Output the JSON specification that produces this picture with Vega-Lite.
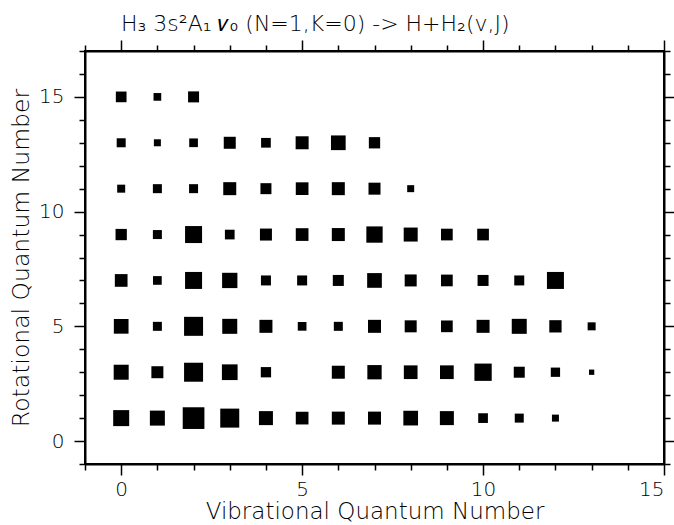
{
  "$schema": "https://vega.github.io/schema/vega-lite/v6.json",
  "width": 579,
  "height": 413,
  "autosize": "none",
  "padding": {"left": 85, "top": 51, "right": 10, "bottom": 61},
  "background": "white",
  "title": {
    "text": "H₃  3s²A₁  𝜈₀  (N=1,K=0)  ->  H+H₂(v,J)",
    "font": "DejaVu Sans",
    "fontWeight": 200,
    "fontSize": 22,
    "color": "black",
    "anchor": "start",
    "frame": "group",
    "offset": 3,
    "dx": 36
  },
  "data": {
    "values": [
      {"v": 0, "J": 15, "p": 10.7}, {"v": 1, "J": 15, "p": 7.7}, {"v": 2, "J": 15, "p": 11},
      {"v": 0, "J": 13, "p": 9}, {"v": 1, "J": 13, "p": 7}, {"v": 2, "J": 13, "p": 8.7}, {"v": 3, "J": 13, "p": 12},
      {"v": 4, "J": 13, "p": 9.7}, {"v": 5, "J": 13, "p": 13}, {"v": 6, "J": 13, "p": 14.7}, {"v": 7, "J": 13, "p": 11.3},
      {"v": 0, "J": 11, "p": 8}, {"v": 1, "J": 11, "p": 9}, {"v": 2, "J": 11, "p": 9}, {"v": 3, "J": 11, "p": 13},
      {"v": 4, "J": 11, "p": 11}, {"v": 5, "J": 11, "p": 12.7}, {"v": 6, "J": 11, "p": 13}, {"v": 7, "J": 11, "p": 12},
      {"v": 8, "J": 11, "p": 7},
      {"v": 0, "J": 9, "p": 11.3}, {"v": 1, "J": 9, "p": 9}, {"v": 2, "J": 9, "p": 17}, {"v": 3, "J": 9, "p": 9.7},
      {"v": 4, "J": 9, "p": 12}, {"v": 5, "J": 9, "p": 12.7}, {"v": 6, "J": 9, "p": 13}, {"v": 7, "J": 9, "p": 16.3},
      {"v": 8, "J": 9, "p": 14}, {"v": 9, "J": 9, "p": 11.7}, {"v": 10, "J": 9, "p": 11.7},
      {"v": 0, "J": 7, "p": 12.7}, {"v": 1, "J": 7, "p": 8.7}, {"v": 2, "J": 7, "p": 17}, {"v": 3, "J": 7, "p": 15.3},
      {"v": 4, "J": 7, "p": 10}, {"v": 5, "J": 7, "p": 10}, {"v": 6, "J": 7, "p": 11}, {"v": 7, "J": 7, "p": 14.7},
      {"v": 8, "J": 7, "p": 12}, {"v": 9, "J": 7, "p": 11.7}, {"v": 10, "J": 7, "p": 11}, {"v": 11, "J": 7, "p": 10},
      {"v": 12, "J": 7, "p": 17},
      {"v": 0, "J": 5, "p": 14.7}, {"v": 1, "J": 5, "p": 9}, {"v": 2, "J": 5, "p": 19}, {"v": 3, "J": 5, "p": 15},
      {"v": 4, "J": 5, "p": 13}, {"v": 5, "J": 5, "p": 8.7}, {"v": 6, "J": 5, "p": 9}, {"v": 7, "J": 5, "p": 13},
      {"v": 8, "J": 5, "p": 12}, {"v": 9, "J": 5, "p": 11.7}, {"v": 10, "J": 5, "p": 13}, {"v": 11, "J": 5, "p": 15},
      {"v": 12, "J": 5, "p": 12.3}, {"v": 13, "J": 5, "p": 8},
      {"v": 0, "J": 3, "p": 15}, {"v": 1, "J": 3, "p": 12}, {"v": 2, "J": 3, "p": 19}, {"v": 3, "J": 3, "p": 15.7},
      {"v": 4, "J": 3, "p": 10.3}, {"v": 6, "J": 3, "p": 13}, {"v": 7, "J": 3, "p": 14.3},
      {"v": 8, "J": 3, "p": 13.7}, {"v": 9, "J": 3, "p": 13.7}, {"v": 10, "J": 3, "p": 17.3}, {"v": 11, "J": 3, "p": 11},
      {"v": 12, "J": 3, "p": 9.3}, {"v": 13, "J": 3, "p": 5.3},
      {"v": 0, "J": 1, "p": 16}, {"v": 1, "J": 1, "p": 15}, {"v": 2, "J": 1, "p": 21.7}, {"v": 3, "J": 1, "p": 19},
      {"v": 4, "J": 1, "p": 14}, {"v": 5, "J": 1, "p": 12.7}, {"v": 6, "J": 1, "p": 13}, {"v": 7, "J": 1, "p": 13},
      {"v": 8, "J": 1, "p": 14.7}, {"v": 9, "J": 1, "p": 14}, {"v": 10, "J": 1, "p": 9.7}, {"v": 11, "J": 1, "p": 9},
      {"v": 12, "J": 1, "p": 7}
    ]
  },
  "layer": [
    {
      "mark": {"type": "square", "filled": true, "color": "black", "opacity": 1},
      "encoding": {
        "x": {
          "field": "v", "type": "quantitative",
          "scale": {"domain": [-1, 15], "nice": false, "zero": false},
          "axis": {
            "orient": "bottom",
            "title": "Vibrational Quantum Number",
            "values": [-1, 0, 1, 2, 3, 4, 5, 6, 7, 8, 9, 10, 11, 12, 13, 14, 15],
            "labelExpr": "datum.value % 5 === 0 ? datum.label : ''",
            "tickSize": {"condition": {"test": "datum.value % 5 === 0", "value": 11}, "value": 6},
            "labelPadding": 4,
            "titlePadding": 1,
            "titleFontSize": 23
          }
        },
        "y": {
          "field": "J", "type": "quantitative",
          "scale": {"domain": [-1, 17], "nice": false, "zero": false},
          "axis": {
            "orient": "left",
            "title": "Rotational Quantum Number",
            "values": [-1, 0, 1, 2, 3, 4, 5, 6, 7, 8, 9, 10, 11, 12, 13, 14, 15, 16, 17],
            "labelExpr": "datum.value % 5 === 0 ? datum.label : ''",
            "tickSize": {"condition": {"test": "datum.value % 5 === 0", "value": 11}, "value": 6},
            "labelPadding": 10,
            "titlePadding": 5
          }
        },
        "size": {
          "field": "p", "type": "quantitative",
          "scale": {"type": "pow", "exponent": 2, "domain": [0, 22], "range": [0, 484]},
          "legend": null
        }
      }
    },
    {
      "mark": {"type": "square", "opacity": 0},
      "encoding": {
        "x": {
          "field": "v", "type": "quantitative",
          "axis": {
            "orient": "top",
            "title": null,
            "labels": false,
            "values": [-1, 0, 1, 2, 3, 4, 5, 6, 7, 8, 9, 10, 11, 12, 13, 14, 15],
            "tickSize": {"condition": {"test": "datum.value % 5 === 0", "value": 11}, "value": 6}
          }
        },
        "y": {
          "field": "J", "type": "quantitative",
          "axis": {
            "orient": "right",
            "title": null,
            "labels": false,
            "values": [-1, 0, 1, 2, 3, 4, 5, 6, 7, 8, 9, 10, 11, 12, 13, 14, 15, 16, 17],
            "tickSize": {"condition": {"test": "datum.value % 5 === 0", "value": 11}, "value": 6}
          }
        }
      }
    }
  ],
  "resolve": {"axis": {"x": "independent", "y": "independent"}},
  "config": {
    "view": {"stroke": "black", "strokeWidth": 2},
    "axis": {
      "domainColor": "black",
      "domainWidth": 2,
      "tickColor": "black",
      "tickWidth": 1.5,
      "grid": false,
      "labelFont": "DejaVu Sans",
      "labelFontWeight": 200,
      "labelFontSize": 20,
      "labelColor": "black",
      "titleFont": "DejaVu Sans",
      "titleFontWeight": 200,
      "titleFontSize": 23.5,
      "titleColor": "black"
    }
  }
}
